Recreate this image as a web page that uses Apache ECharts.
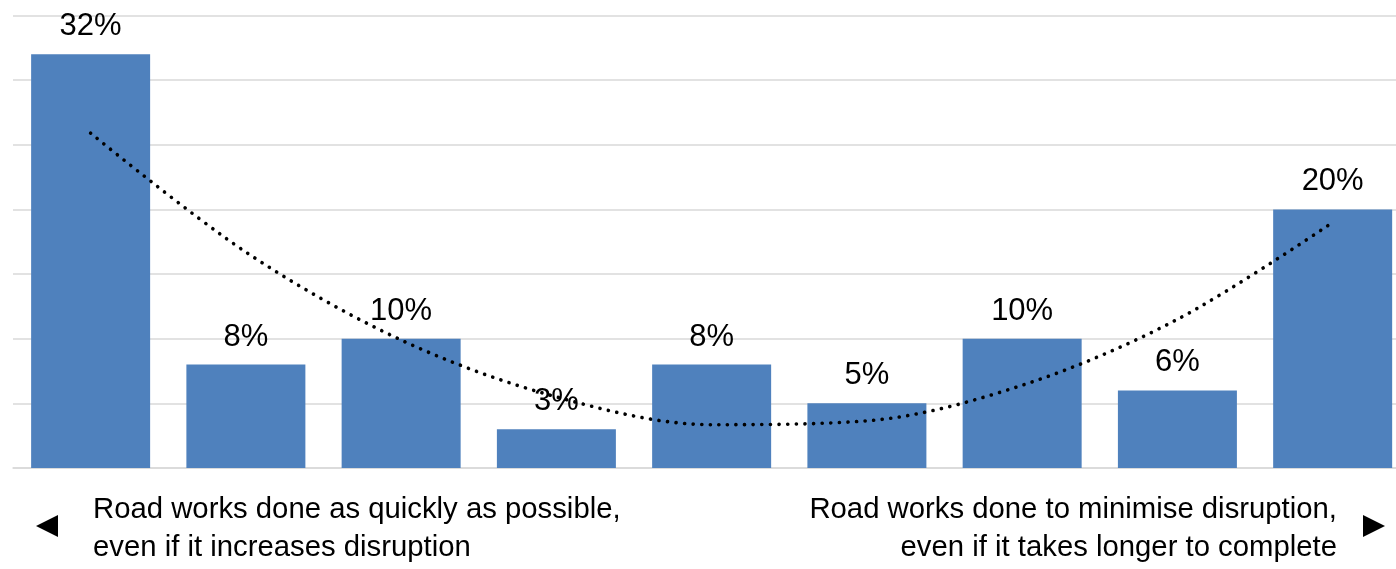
<!DOCTYPE html>
<html>
<head>
<meta charset="utf-8">
<script src="https://cdn.jsdelivr.net/npm/echarts@6/dist/echarts.min.js"></script>
<style>
html,body{margin:0;padding:0;background:#fff;}
#c{width:1396px;height:569px;}
</style>
</head>
<body>
<div id="c"></div>
<script>
const categories = [0, 1, 2, 3, 4, 5, 6, 7, 8];
const shares = [32, 8, 10, 3, 8, 5, 10, 6, 20];
const trend = [25.9, 16.7, 9.9, 5.5, 3.35, 3.65, 6.4, 11.5, 19.0];
const leftText = ['Road works done as quickly as possible,', 'even if it increases disruption'];
const rightText = ['Road works done to minimise disruption,', 'even if it takes longer to complete'];

const FONT = '"Liberation Sans", Arial, sans-serif';
const chart = echarts.init(document.getElementById('c'));
chart.setOption({
  animation: false,
  backgroundColor: '#fff',
  grid: { left: 13, top: 15.5, right: 0, height: 452.5 },
  xAxis: {
    type: 'value',
    min: -0.5, max: 8.408,
    axisLine: { show: true, onZero: false, lineStyle: { color: '#d9d9d9', width: 1.5 } },
    axisTick: { show: false },
    axisLabel: { show: false },
    splitLine: { show: false }
  },
  yAxis: {
    type: 'value',
    min: 0, max: 35, interval: 5,
    axisLine: { show: false },
    axisTick: { show: false },
    axisLabel: { show: false },
    splitLine: { lineStyle: { color: '#d9d9d9', width: 1.5 } }
  },
  series: [
    {
      type: 'bar',
      data: categories.map((c, i) => [c, shares[i]]),
      barWidth: 119,
      itemStyle: { color: '#4F81BD' },
      label: {
        show: true,
        position: 'top',
        distance: 12,
        formatter: p => p.value[1] + '%',
        fontFamily: FONT,
        fontSize: 31,
        color: '#000'
      },
      z: 2
    },
    {
      type: 'line',
      data: categories.map((c, i) => [c, trend[i]]),
      smooth: 0.33,
      symbol: 'none',
      lineStyle: { color: '#000', width: 3.6, type: [0.1, 8.5], cap: 'round' },
      z: 5
    }
  ],
  graphic: [
    { type: 'polygon', shape: { points: [[36, 526], [58, 515], [58, 537]] }, style: { fill: '#000' } },
    { type: 'polygon', shape: { points: [[1385, 526], [1363, 515], [1363, 537]] }, style: { fill: '#000' } },
    { type: 'text', x: 93, y: 510, style: { text: leftText[0], font: '29.3px ' + FONT, fill: '#000', align: 'left', verticalAlign: 'middle' } },
    { type: 'text', x: 93, y: 548, style: { text: leftText[1], font: '29.3px ' + FONT, fill: '#000', align: 'left', verticalAlign: 'middle' } },
    { type: 'text', x: 1337, y: 510, style: { text: rightText[0], font: '29.3px ' + FONT, fill: '#000', align: 'right', verticalAlign: 'middle' } },
    { type: 'text', x: 1337, y: 548, style: { text: rightText[1], font: '29.3px ' + FONT, fill: '#000', align: 'right', verticalAlign: 'middle' } }
  ]
});
</script>
</body>
</html>
